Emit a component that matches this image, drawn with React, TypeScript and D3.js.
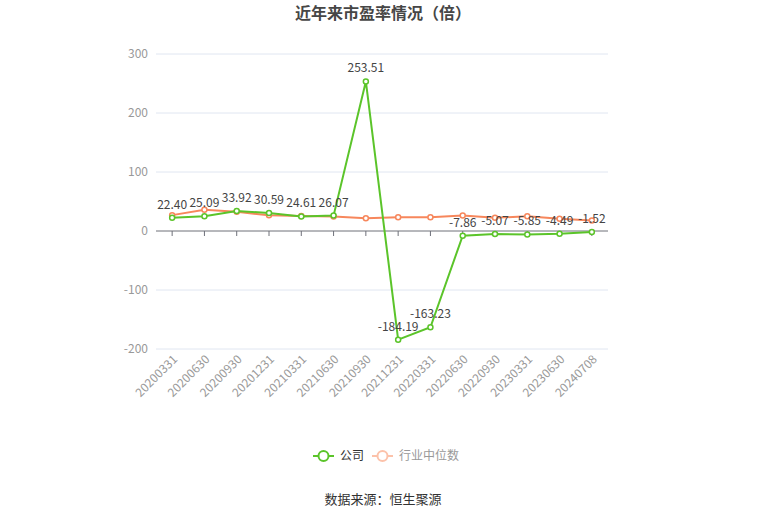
import { useEffect, useRef } from 'react';
import * as d3 from 'd3';

const categories = [
  '20200331', '20200630', '20200930', '20201231', '20210331', '20210630', '20210930',
  '20211231', '20220331', '20220630', '20220930', '20230331', '20230630', '20240708',
];
const companyPE = [22.40, 25.09, 33.92, 30.59, 24.61, 26.07, 253.51, -184.19, -163.23, -7.86, -5.07, -5.85, -4.49, -1.52];
const industryPE = [26.9, 36.2, 32.5, 26.5, 25.3, 24.7, 21.8, 23.5, 23.5, 26.3, 22.3, 25.0, 20.6, 17.8];
const yTicks = [-200, -100, 0, 100, 200, 300];

const GREEN = '#5bc42a';
const ORANGE = '#f7875c';

export default function App() {
  const svgRef = useRef<SVGSVGElement>(null);

  useEffect(() => {
    if (!svgRef.current) return;
    d3.select(svgRef.current).selectAll('*').remove();

    const width = 765;
    const height = 517;
    const margin = { top: 54, right: 157, bottom: 168, left: 156 };
    const font = '"Microsoft YaHei", "Noto Sans CJK SC", sans-serif';

    const svg = d3.select(svgRef.current)
      .attr('width', width)
      .attr('height', height)
      .attr('viewBox', [0, 0, width, height])
      .style('font-family', font);

    const x = d3.scaleBand<string>()
      .domain(categories)
      .range([margin.left, width - margin.right]);
    const cx = (c: string) => (x(c) ?? 0) + x.bandwidth() / 2;

    const y = d3.scaleLinear()
      .domain([-200, 300])
      .range([height - margin.bottom, margin.top]);

    // title
    svg.append('text')
      .attr('x', 383)
      .attr('y', 19)
      .attr('text-anchor', 'middle')
      .style('font-size', '16px')
      .style('font-weight', 'bold')
      .attr('fill', '#464646')
      .text('近年来市盈率情况（倍）');

    // grid + y labels
    const gy = svg.append('g');
    yTicks.forEach(t => {
      if (t !== 0) {
        gy.append('line')
          .attr('x1', margin.left).attr('x2', width - margin.right)
          .attr('y1', y(t)).attr('y2', y(t))
          .attr('stroke', '#e0e6f1');
      }
      gy.append('text')
        .attr('x', margin.left - 8)
        .attr('y', y(t))
        .attr('dy', '0.35em')
        .attr('text-anchor', 'end')
        .attr('fill', '#999')
        .style('font-size', '12px')
        .text(t);
    });

    // zero axis
    svg.append('line')
      .attr('x1', margin.left).attr('x2', width - margin.right)
      .attr('y1', y(0)).attr('y2', y(0))
      .attr('stroke', '#6e7079');
    categories.forEach(c => {
      svg.append('line')
        .attr('x1', cx(c)).attr('x2', cx(c))
        .attr('y1', y(0)).attr('y2', y(0) + 5)
        .attr('stroke', '#6e7079');
    });

    // x labels at bottom
    categories.forEach(c => {
      svg.append('text')
        .attr('transform', `translate(${cx(c) + 3},${y(-200) + 8}) rotate(-45)`)
        .attr('text-anchor', 'end')
        .attr('dy', '0.35em')
        .attr('fill', '#999')
        .style('font-size', '12px')
        .text(c);
    });

    const line = d3.line<number>()
      .x((_, i) => cx(categories[i]))
      .y(d => y(d));

    const drawSeries = (vals: number[], color: string) => {
      svg.append('path')
        .datum(vals)
        .attr('d', line)
        .attr('fill', 'none')
        .attr('stroke', color)
        .attr('stroke-width', 2);
      svg.append('g').selectAll('circle')
        .data(vals)
        .join('circle')
        .attr('cx', (_, i) => cx(categories[i]))
        .attr('cy', d => y(d))
        .attr('r', 2.5)
        .attr('fill', '#fff')
        .attr('stroke', color)
        .attr('stroke-width', 1.5);
    };

    drawSeries(industryPE, ORANGE);
    drawSeries(companyPE, GREEN);

    // value labels
    svg.append('g').selectAll('text')
      .data(companyPE)
      .join('text')
      .attr('x', (_, i) => cx(categories[i]))
      .attr('y', d => y(d) - 9)
      .attr('text-anchor', 'middle')
      .attr('fill', '#444')
      .style('font-size', '12px')
      .text(d => d.toFixed(2));

    // legend
    const lg = svg.append('g');
    const legendItems = [
      { name: '公司', color: GREEN, text: '#333', x: 313 },
      { name: '行业中位数', color: '#fcc2aa', text: '#999', x: 372 },
    ];
    legendItems.forEach(it => {
      lg.append('line')
        .attr('x1', it.x).attr('x2', it.x + 21)
        .attr('y1', 456).attr('y2', 456)
        .attr('stroke', it.color).attr('stroke-width', 2);
      lg.append('circle')
        .attr('cx', it.x + 10.5).attr('cy', 456).attr('r', 5)
        .attr('fill', '#fff').attr('stroke', it.color).attr('stroke-width', 2);
      lg.append('text')
        .attr('x', it.x + 27).attr('y', 456).attr('dy', '0.35em')
        .attr('fill', it.text)
        .style('font-size', '12px')
        .text(it.name);
    });

    // source
    svg.append('text')
      .attr('x', 383)
      .attr('y', 499)
      .attr('dy', '0.35em')
      .attr('text-anchor', 'middle')
      .attr('fill', '#333')
      .style('font-size', '13px')
      .text('数据来源：恒生聚源');
  }, []);

  return (
    <div style={{ position: 'absolute', left: 0, top: 0 }}>
      <svg ref={svgRef}></svg>
    </div>
  );
}
